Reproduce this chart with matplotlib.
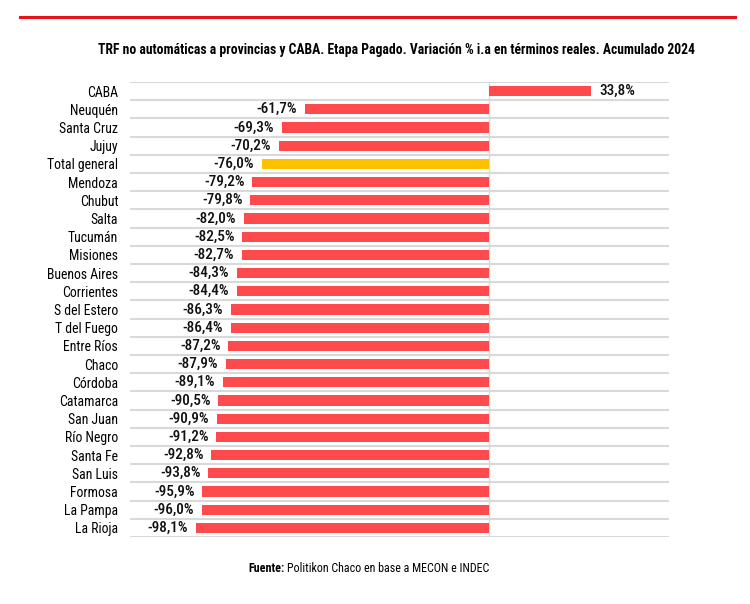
import matplotlib
matplotlib.use('Agg')
import matplotlib.pyplot as plt
from matplotlib import font_manager
from matplotlib.font_manager import FontProperties

categories = ['CABA', 'Neuquén', 'Santa Cruz', 'Jujuy', 'Total general', 'Mendoza',
              'Chubut', 'Salta', 'Tucumán', 'Misiones', 'Buenos Aires', 'Corrientes',
              'S del Estero', 'T del Fuego', 'Entre Ríos', 'Chaco', 'Córdoba',
              'Catamarca', 'San Juan', 'Río Negro', 'Santa Fe', 'San Luis',
              'Formosa', 'La Pampa', 'La Rioja']
values = [33.8, -61.7, -69.3, -70.2, -76.0, -79.2, -79.8, -82.0, -82.5, -82.7,
          -84.3, -84.4, -86.3, -86.4, -87.2, -87.9, -89.1, -90.5, -90.9, -91.2,
          -92.8, -93.8, -95.9, -96.0, -98.1]
title = 'TRF no automáticas a provincias y CABA. Etapa Pagado. Variación % i.a en términos reales. Acumulado 2024'
source = 'Politikon Chaco en base a MECON e INDEC'

# narrow faces (regular, medium, bold), the reference uses one
fl = font_manager.fontManager.ttflist
narrow = [f for f in fl if ('Narrow' in f.name or 'Condensed' in f.name)
          and f.style == 'normal' and 'Italic' not in f.fname]
bad = ('Extra', 'Black', 'Semi', 'Light', 'Thin', 'Medium')


def rank(f):
    return ('Liberation' not in f.name, 'Roboto' not in f.name, f.name)


reg = sorted([f for f in narrow if f.weight in (400, 'normal', 'regular')
              and not any(b in f.fname for b in bad)], key=rank)
FP = FB = FM = None
if reg:
    fam = reg[0].name
    FP = FontProperties(fname=reg[0].fname)
    bld = sorted([f for f in narrow if f.weight in (700, 'bold')
                  and not any(b in f.fname for b in bad)],
                 key=lambda f: (f.name != fam,) + rank(f))
    if bld:
        FB = FontProperties(fname=bld[0].fname)
    med = [f for f in narrow if f.name == fam and 'Medium' in f.fname]
    if med:
        FM = FontProperties(fname=med[0].fname)
if FP is not None and FB is not None:
    s_title, s_cat, s_val, s_src = 9.85, 9.9, 11, 8.65
    if FM is None:
        FM = FB
        s_val = 10.5
else:
    FP = FontProperties(family='Liberation Sans')
    FB = FontProperties(family='Liberation Sans', weight='bold')
    FM = FB
    s_title, s_cat, s_val, s_src = 8.1, 8.8, 9.6, 7.4


def fp(base, size):
    p = base.copy()
    p.set_size(size)
    return p


red = '#FF4A4D'
gold = '#FFC000'
colors = [gold if c == 'Total general' else red for c in categories]

fig = plt.figure(figsize=(7.5, 6.04), dpi=100)
ax = fig.add_axes([130/750, 1-537/604, (669-130)/750, (537-82)/604])

n = len(categories)
ypos = list(range(n))
ax.barh(ypos, values, height=0.55, color=colors, zorder=3)
ax.set_ylim(n-0.5, -0.5)
ax.set_xlim(-120, 60)

# row separators and zero line
for k in range(n+1):
    ax.axhline(k-0.5, color='#D9D9D9', lw=1.5, zorder=1)
ax.axvline(0, color='#D9D9D9', lw=1.0, zorder=2)

for y, v in zip(ypos, values):
    txt = f'{v:.1f}%'.replace('.', ',')
    if v < 0:
        ax.text(v-2.6, y, txt, ha='right', va='center', fontproperties=fp(FM, s_val), color='#111111')
    else:
        ax.text(v+3.0, y, txt, ha='left', va='center', fontproperties=fp(FM, s_val), color='#111111')

ax.set_yticks(ypos)
ax.set_yticklabels(categories, fontproperties=fp(FP, s_cat))
ax.tick_params(axis='y', length=0, pad=8.5)
ax.set_xticks([])
for s in ax.spines.values():
    s.set_visible(False)

fig.text(397/750, 1-50/604, title, ha='center', va='center', fontproperties=fp(FB, s_title))

# footer: bold "Fuente:" then regular text
f1 = fig.text(248/750, 1-568/604, 'Fuente:', ha='left', va='center', fontproperties=fp(FB, s_src))
fig.canvas.draw()
bb = f1.get_window_extent()
fig.text(bb.x1/750 + 3/750, 1-568/604, source, ha='left', va='center', fontproperties=fp(FP, s_src))

# red rule at the top
fig.add_artist(plt.Line2D([20/750, 735/750], [1-17/604, 1-17/604], color='#E8141B', lw=2.2))

fig.savefig('out.png', dpi=100)
